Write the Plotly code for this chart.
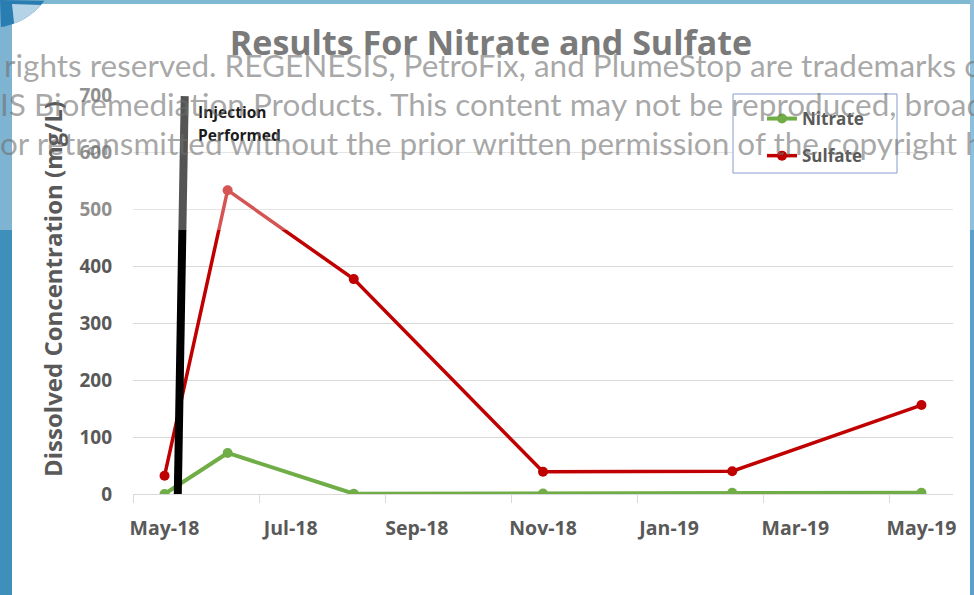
import plotly.graph_objects as go
import numpy as np

# ---------------- data ----------------
dates = ["2018-05", "2018-06", "2018-08", "2018-11", "2019-02", "2019-05"]
nitrate = [0, 72, 0.5, 0.8, 2, 2]
sulfate = [32, 533, 377, 39, 40, 156]
tick_months = ["2018-05", "2018-07", "2018-09", "2018-11", "2019-01", "2019-03", "2019-05"]
tick_labels = ["May-18", "Jul-18", "Sep-18", "Nov-18", "Jan-19", "Mar-19", "May-19"]
boundary_months = ["2018-05", "2018-07", "2018-09", "2018-11", "2019-01", "2019-03", "2019-05"]
injection_x = [0.21, 0.32]      # months after May-18 (hand-drawn marker line)
injection_y = [0, 698]

title_text = "Results For Nitrate and Sulfate"
y_title = "Dissolved Concentration (mg/L)"
wm_lines = [
    "rights reserved. REGENESIS, PetroFix, and PlumeStop are trademarks of REGENESIS Bioremediation Products.",
    "IS Bioremediation Products. This content may not be reproduced, broadcast, rewritten,",
    "or retransmitted without the prior written permission of the copyright holder.",
]


def month_index(s):
    y, m = map(int, s.split("-"))
    return (y - 2018) * 12 + (m - 5)


xs = [month_index(d) for d in dates]
tickvals = [month_index(d) for d in tick_months]
minor_vals = [month_index(d) - 0.5 for d in boundary_months]

# ---------------- layout geometry ----------------
W, H = 974, 595
PL, PR, PT, PB = 133, 953, 95, 494


def px(x):
    return (x - PL) / (PR - PL)


def py(y):
    return (PB - y) / (PB - PT)


FONT = "Open Sans"
WMFONT = "Lato"
GRAY = "#595959"

fig = go.Figure()
fig.add_trace(go.Scatter(x=xs, y=nitrate, name="Nitrate", mode="lines+markers",
                         line=dict(color="#70ad47", width=4),
                         marker=dict(color="#70ad47", size=10), legendgroup="n"))
fig.add_trace(go.Scatter(x=xs, y=sulfate, name="Sulfate", mode="lines+markers",
                         line=dict(color="#c00000", width=3.5),
                         marker=dict(color="#c00000", size=10), legendgroup="s"))
fig.add_trace(go.Scatter(x=injection_x, y=injection_y, mode="lines", showlegend=False,
                         line=dict(color="black", width=8), hoverinfo="skip"))

shapes = []
# frame decoration
shapes.append(dict(type="rect", xref="paper", yref="paper", layer="below",
                   x0=px(0), x1=px(12), y0=py(0), y1=py(H), fillcolor="#3f8fbb", line_width=0))
shapes.append(dict(type="rect", xref="paper", yref="paper", layer="below",
                   x0=px(0), x1=px(W), y0=py(0), y1=py(4), fillcolor="#4095bc", line_width=0))
shapes.append(dict(type="rect", xref="paper", yref="paper", layer="below",
                   x0=px(970), x1=px(W), y0=py(0), y1=py(H), fillcolor="#5aa0c8", line_width=0))
# legend box
shapes.append(dict(type="rect", xref="paper", yref="paper", layer="above",
                   x0=px(733), x1=px(897), y0=py(94), y1=py(173), fillcolor="white",
                   line=dict(color="#4a6fb5", width=1)))
# translucent band behind watermark
shapes.append(dict(type="rect", xref="paper", yref="paper", layer="above",
                   x0=px(0), x1=px(W), y0=py(0), y1=py(230), fillcolor="white",
                   opacity=0.33, line_width=0))
# corner arc
t = np.linspace(0, np.pi / 2, 40)
cx, cy, r = -10, -40, 68
arc = [(cx + r * np.cos(a), cy + r * np.sin(a)) for a in t]
pts = [(0, 0)] + [(x, y) for x, y in arc if x >= 0 and y >= 0]
path = "M " + " L ".join(f"{px(x):.5f},{py(y):.5f}" for x, y in pts) + " Z"
shapes.append(dict(type="path", xref="paper", yref="paper", layer="above", path=path,
                   fillcolor="#2a7db1", line_width=0))
inner = [(12, 4)] + [(x, y) for x, y in arc if x >= 12 and y >= 4]
path2 = "M " + " L ".join(f"{px(x):.5f},{py(y):.5f}" for x, y in inner) + " Z"
shapes.append(dict(type="path", xref="paper", yref="paper", layer="above", path=path2,
                   fillcolor="#b4d3e7", line_width=0))

annotations = []
annotations.append(dict(text=y_title, xref="paper", yref="paper", x=px(52), y=py(289),
                        textangle=-90, showarrow=False, xanchor="center", yanchor="middle",
                        font=dict(family=FONT, size=24, color=GRAY, weight="bold")))
annotations.append(dict(text="Injection", xref="paper", yref="paper", x=px(196), y=py(112),
                        showarrow=False, xanchor="left", yanchor="middle",
                        font=dict(family=FONT, size=15.5, color="#1a1a1a", weight="bold")))
annotations.append(dict(text="Performed", xref="paper", yref="paper", x=px(196), y=py(135),
                        showarrow=False, xanchor="left", yanchor="middle",
                        font=dict(family=FONT, size=15.5, color="#1a1a1a", weight="bold")))
for txt, x0, yc in zip(wm_lines, [2, -2, -2], [65, 104, 143]):
    annotations.append(dict(text=txt, xref="paper", yref="paper", x=px(x0), y=py(yc),
                            showarrow=False, xanchor="left", yanchor="middle",
                            font=dict(family=WMFONT, size=31.5, color="rgba(110,110,110,0.6)")))

fig.update_layout(
    width=W, height=H,
    margin=dict(l=PL, r=W - PR, t=PT, b=H - PB, pad=0),
    paper_bgcolor="white", plot_bgcolor="white",
    title=dict(text=title_text, x=491 / W, xanchor="center", y=1 - 43 / H, yanchor="middle",
               font=dict(family=FONT, size=34, color="#7a7a7a", weight="bold")),
    xaxis=dict(range=[-0.5, 12.5], tickmode="array", tickvals=tickvals, ticktext=tick_labels,
               ticks="", showgrid=False, zeroline=False, showline=True, linecolor="#d9d9d9",
               linewidth=1, ticklabelstandoff=17,
               tickfont=dict(family=FONT, size=19.5, color=GRAY, weight="bold"),
               minor=dict(tickmode="array", tickvals=minor_vals, ticks="outside", ticklen=8,
                          tickcolor="#d9d9d9", tickwidth=1, showgrid=False)),
    yaxis=dict(range=[0, 700], dtick=100, showgrid=True, gridcolor="#d9d9d9", gridwidth=1,
               zeroline=False, showline=False, ticks="", ticklabelstandoff=20,
               tickfont=dict(family=FONT, size=19, color=GRAY, weight="bold")),
    showlegend=True,
    legend=dict(x=px(762), y=py(101), xanchor="left", yanchor="top", bgcolor="rgba(0,0,0,0)",
                borderwidth=0, tracegroupgap=12,
                font=dict(family=FONT, size=17, color=GRAY, weight="bold")),
    shapes=shapes, annotations=annotations,
)

fig.write_html("out.html", config={"displayModeBar": False},
               post_script="document.body.style.margin='0px';")
